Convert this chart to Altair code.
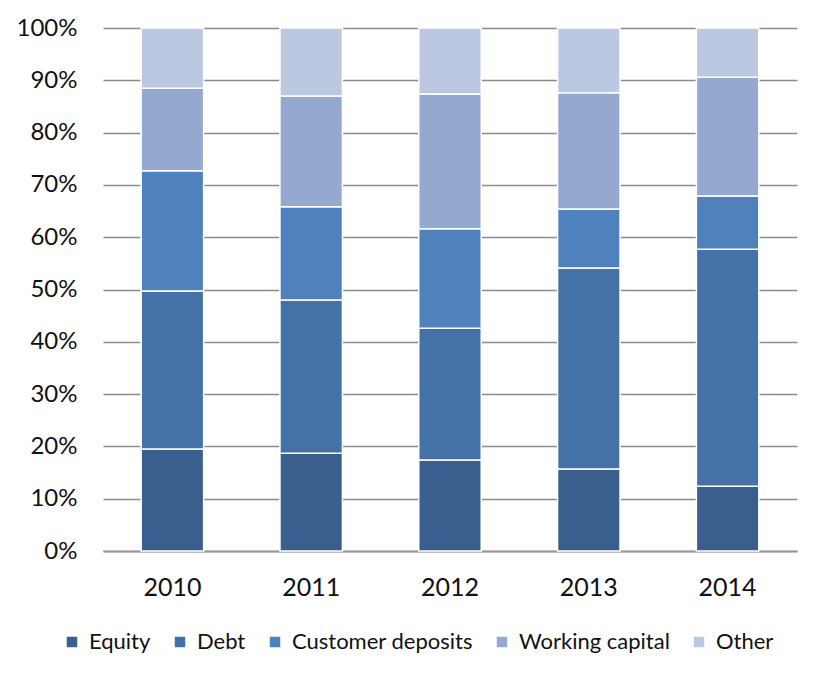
import altair as alt
import pandas as pd

years = ["2010", "2011", "2012", "2013", "2014"]
series = ["Equity", "Debt", "Customer deposits", "Working capital", "Other"]
equity = [19.5, 18.7, 17.4, 15.7, 12.4]
debt = [30.2, 29.3, 25.2, 38.4, 45.3]
deposits = [23.0, 17.8, 19.0, 11.3, 10.2]
working = [15.8, 21.2, 25.8, 22.2, 22.7]
other = [11.5, 13.0, 12.6, 12.4, 9.4]
colors = ["#3A5E8E", "#4472A6", "#4F81BD", "#95A9D0", "#BCC8E1"]

rows = []
for si, (name, vals) in enumerate(zip(series, [equity, debt, deposits, working, other])):
    for y, v in zip(years, vals):
        rows.append({"year": y, "series": name, "value": v / 100.0, "order": si})
df = pd.DataFrame(rows)

FONT = "Lato"

chart = alt.Chart(df).mark_bar(stroke="white", strokeWidth=1.5).encode(
    x=alt.X("year:N", title=None,
            scale=alt.Scale(paddingInner=0.55, paddingOuter=0.275),
            axis=alt.Axis(labelAngle=0, labelFontSize=25, labelFont=FONT, labelColor="#111",
                          ticks=False, domain=True, domainColor="#999", domainWidth=2,
                          labelPadding=24, grid=False)),
    y=alt.Y("value:Q", title=None, stack="zero",
            scale=alt.Scale(domain=[0, 1], nice=False),
            axis=alt.Axis(format=".0%", values=[i / 10 for i in range(11)],
                          labelFontSize=24, labelFont=FONT, labelColor="#111",
                          ticks=False, domain=False, grid=True, gridColor="#8a8a8a",
                          gridWidth=1.5, labelPadding=26)),
    color=alt.Color("series:N", sort=series,
                    scale=alt.Scale(domain=series, range=colors),
                    legend=alt.Legend(title=None, orient="none", direction="horizontal",
                                      legendX=-42, legendY=603, symbolType="square",
                                      symbolSize=110, symbolStrokeWidth=0,
                                      labelFontSize=22, labelFont=FONT, labelColor="#111",
                                      labelLimit=400,
                                      labelOffset=6, columnPadding=18, padding=0)),
    order=alt.Order("order:Q", sort="ascending"),
).properties(
    width=694, height=523,
    padding={"left": 95, "top": 20, "right": 20, "bottom": 120},
    autosize="none",
).configure_view(stroke=None)

chart.save("out.html", embed_options={"renderer": "svg", "actions": False})
